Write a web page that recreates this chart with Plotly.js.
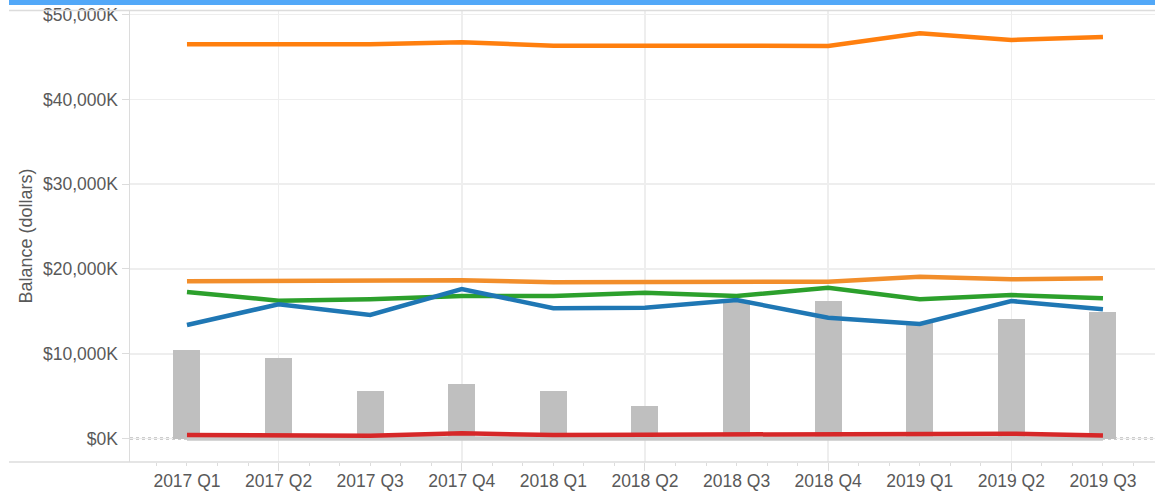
<!DOCTYPE html>
<html>
<head>
<meta charset="utf-8">
<script src="https://cdn.plot.ly/plotly-3.0.1.min.js"></script>
<style>
  html, body { margin: 0; padding: 0; background: #ffffff; }
  #chart { width: 1155px; height: 493px; }
</style>
</head>
<body>
<div id="chart"></div>
<script>
// ---- data (balances in thousands of dollars) ----
const quarters = ['2017 Q1','2017 Q2','2017 Q3','2017 Q4','2018 Q1','2018 Q2','2018 Q3','2018 Q4','2019 Q1','2019 Q2','2019 Q3'];
const barValues      = [10440, 9500, 5600, 6430, 5600, 3830, 16300, 16220, 13650, 14100, 14920];
const orangeValues   = [46510, 46510, 46510, 46740, 46340, 46340, 46340, 46310, 47810, 47010, 47370];
const lightOrange    = [18550, 18550, 18550, 18660, 18430, 18430, 18430, 18500, 19090, 18780, 18900];
const greenValues    = [17280, 16260, 16420, 16810, 16810, 17200, 16810, 17790, 16420, 16930, 16540];
const blueValues     = [13390, 15830, 14570, 17640, 15360, 15430, 16340, 14250, 13510, 16220, 15240];
const greyValues     = [0, 0, 0, 0, 0, 0, 0, 0, 0, 0, 0];
const redValues      = [410, 330, 330, 610, 410, 450, 450, 490, 490, 570, 370];
const yTickValues    = [0, 10000, 20000, 30000, 40000, 50000];
const yTickText      = ['$0K', '$10,000K', '$20,000K', '$30,000K', '$40,000K', '$50,000K'];
const gridQuarters   = ['2017 Q2','2017 Q4','2018 Q2','2018 Q4','2019 Q2'];

const xPos = quarters.map((q, i) => i);
const gridPos = gridQuarters.map(q => quarters.indexOf(q));

// monthly small ticks (three per quarter), labels only on quarters
const tickVals = [];
const tickText = [];
for (let k = -1; k <= quarters.length * 3; k++) {
  const v = k / 3;
  tickVals.push(v);
  tickText.push(k % 3 === 0 && k >= 0 && k / 3 < quarters.length ? quarters[k / 3] : '');
}

function line(y, color, width) {
  return {
    type: 'scatter', mode: 'lines', x: xPos, y: y,
    line: { color: color, width: width || 4.5, shape: 'linear' },
    hoverinfo: 'skip', showlegend: false
  };
}

const traces = [
  {
    type: 'bar', x: xPos, y: barValues, width: 0.295,
    marker: { color: '#bfbfbf', line: { width: 0 } },
    hoverinfo: 'skip', showlegend: false
  },
  line(orangeValues, '#ff7f0e'),
  line(lightOrange, '#f28e2b'),
  line(greenValues, '#2ca02c'),
  line(blueValues, '#1f77b4'),
  line(greyValues, '#c8c8c8'),
  line(redValues, '#d62728')
];

const axisLine = '#dcdcdc';
const gridColor = '#eeeeee';
const textColor = '#595959';
const FONT = 'Arial, "Liberation Sans", Helvetica, sans-serif';

const plotLeft = 130, plotTop = 10, plotBottom = 31, W = 1155, H = 493;
const plotW = W - plotLeft, plotH = H - plotTop - plotBottom;
const px2paperX = px => (px - plotLeft) / plotW;
const px2paperY = py => (H - plotBottom - py) / plotH;

const layout = {
  width: W, height: H,
  margin: { l: plotLeft, r: 0, t: plotTop, b: plotBottom, pad: 0 },
  paper_bgcolor: '#ffffff', plot_bgcolor: '#ffffff',
  font: { family: FONT, color: textColor },
  bargap: 0,
  xaxis: {
    type: 'linear',
    range: [-0.622, 10.568],
    tickmode: 'array', tickvals: tickVals, ticktext: tickText,
    ticks: 'outside', ticklen: 3, tickwidth: 1, tickcolor: axisLine,
    tickfont: { size: 17.5, color: textColor, family: FONT },
    showgrid: false, zeroline: false,
    showline: false,
    minor: {
      tickmode: 'array', tickvals: gridPos,
      ticks: 'outside', ticklen: 8, tickwidth: 1, tickcolor: axisLine,
      showgrid: true, gridcolor: gridColor, gridwidth: 1.6
    },
    fixedrange: true
  },
  yaxis: {
    range: [-2770, 50550],
    tickmode: 'array', tickvals: yTickValues, ticktext: yTickText,
    ticks: 'outside', ticklen: 7, tickwidth: 1, tickcolor: axisLine,
    tickfont: { size: 17.5, color: textColor, family: FONT },
    showgrid: true, gridcolor: gridColor, gridwidth: 1.6,
    zeroline: false,
    showline: true, linecolor: axisLine, linewidth: 1.5,
    title: { text: 'Balance (dollars)', font: { size: 18, color: textColor, family: FONT }, standoff: 6 },
    fixedrange: true
  },
  shapes: [
    // dotted zero reference line (drawn under the traces)
    { type: 'line', xref: 'paper', yref: 'y', x0: 0, x1: 1, y0: 0, y1: 0,
      line: { color: '#3a3a3a', width: 1.6, dash: 'dot' }, layer: 'below' },
    // bottom axis rule extending into the left margin
    { type: 'line', xref: 'paper', yref: 'paper', x0: px2paperX(9), x1: 1, y0: 0, y1: 0,
      line: { color: axisLine, width: 1.5 }, layer: 'above' },
    // top rule
    { type: 'line', xref: 'paper', yref: 'paper', x0: px2paperX(9), x1: 1, y0: px2paperY(10.5), y1: px2paperY(10.5),
      line: { color: axisLine, width: 1.5 }, layer: 'above' },
    // blue header band
    { type: 'rect', xref: 'paper', yref: 'paper', x0: px2paperX(9), x1: 1, y0: px2paperY(5), y1: px2paperY(0),
      fillcolor: '#52a8f8', line: { width: 0 }, layer: 'above' }
  ]
};

Plotly.newPlot('chart', traces, layout, { displayModeBar: false, staticPlot: true });
</script>
</body>
</html>
